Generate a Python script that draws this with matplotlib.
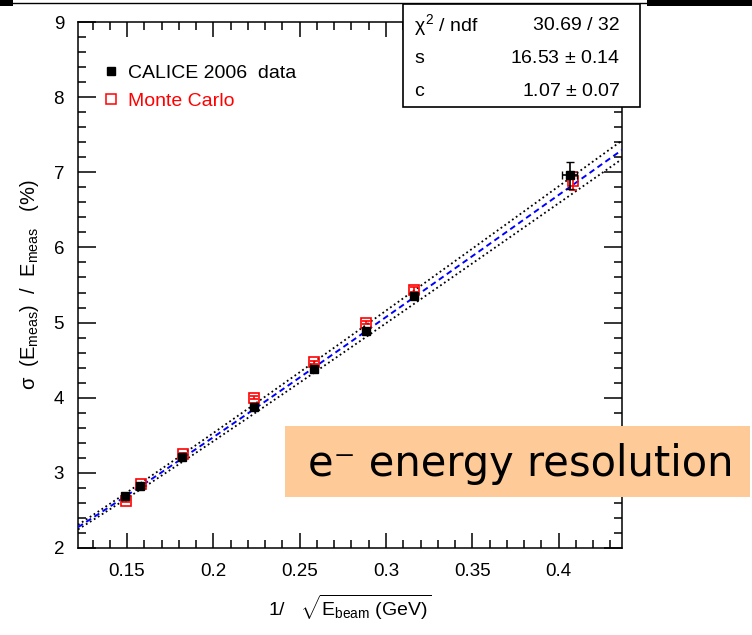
import numpy as np
import matplotlib.pyplot as plt
from matplotlib.lines import Line2D
from matplotlib.patches import Rectangle

plt.rcParams['font.family'] = ['Liberation Sans', 'DejaVu Sans']
plt.rcParams['mathtext.fontset'] = 'custom'
plt.rcParams['mathtext.rm'] = 'Liberation Sans'
plt.rcParams['mathtext.it'] = 'Liberation Sans'
plt.rcParams['mathtext.bf'] = 'Liberation Sans:bold'

# data
data_x = [0.149, 0.1577, 0.182, 0.2234, 0.2583, 0.2886, 0.3165, 0.4063]
data_y = [2.69, 2.83, 3.21, 3.88, 4.38, 4.89, 5.35, 6.96]
data_xerr = [0.001, 0.001, 0.001, 0.001, 0.001, 0.001, 0.001, 0.0043]
data_yerr = [0.02, 0.02, 0.02, 0.02, 0.02, 0.02, 0.03, 0.18]

mc_x = [0.1495, 0.158, 0.1825, 0.2236, 0.2582, 0.2887, 0.3162, 0.4086]
mc_y = [2.63, 2.85, 3.25, 4.00, 4.47, 5.00, 5.44, 6.88]
mc_yerr = [0.02, 0.02, 0.02, 0.02, 0.02, 0.02, 0.03, 0.12]

# fit parameters (stat box) and band edges
s_fit, s_err = 16.53, 0.14
c_fit, c_err = 1.07, 0.07
chi2_ndf = "30.69 / 32"
s_band = [16.25, 16.82]

xmin, xmax = 0.1216, 0.4367
ymin, ymax = 2.0, 9.0

fig = plt.figure(figsize=(7.52, 6.35), dpi=100)
ax = fig.add_axes([78 / 752, 1 - 548 / 635, 544 / 752, 526 / 635])


def reso(x, s, c):
    return np.sqrt((s * x) ** 2 + c ** 2)


xx = np.linspace(xmin, xmax, 300)
for sb in s_band:
    ax.plot(xx, reso(xx, sb, c_fit), color='black', lw=1.3, ls=(0, (1, 1.6)), zorder=2)
ax.plot(xx, reso(xx, s_fit, c_fit), color='#0000ff', lw=1.4, ls=(0, (3, 2)), zorder=3)

ax.errorbar(mc_x, mc_y, yerr=mc_yerr, fmt='s', ms=7, mfc='none', mec='red',
            mew=1.2, ecolor='red', elinewidth=1.2, capsize=3, zorder=4)
ax.errorbar(data_x, data_y, xerr=data_xerr, yerr=data_yerr, fmt='s', ms=6,
            color='black', ecolor='black', elinewidth=1.2, capsize=3, zorder=5)

ax.set_xlim(xmin, xmax)
ax.set_ylim(ymin, ymax)
ax.set_xticks([0.15, 0.2, 0.25, 0.3, 0.35, 0.4])
ax.set_xticklabels(['0.15', '0.2', '0.25', '0.3', '0.35', '0.4'])
ax.set_xticks(np.arange(0.13, 0.44, 0.01), minor=True)
ax.set_yticks(range(2, 10))
ax.set_yticks(np.arange(2.0, 9.01, 0.2), minor=True)
ax.tick_params(which='both', direction='in', top=True, right=True, labelsize=13.5, width=1.1)
ax.tick_params(axis='x', which='major', length=11, pad=11)
ax.tick_params(axis='x', which='minor', length=5.5)
ax.tick_params(axis='y', which='major', length=13, pad=10)
ax.tick_params(axis='y', which='minor', length=6)
for sp in ax.spines.values():
    sp.set_linewidth(1.1)

ax.set_xlabel(r'$1/\ \ \ \sqrt{\mathrm{E_{beam}\ (GeV)}}$', fontsize=14)
ax.xaxis.set_label_coords(0.5, -0.085)
ax.set_ylabel(r'$\sigma\ \ (\mathrm{E_{meas}})\ \ /\ \ \mathrm{E_{meas}}\ \ \ (\%)$',
              fontsize=14.5)
ax.yaxis.set_label_coords(-0.068, 0.5)

handles = [Line2D([], [], ls='none', marker='s', ms=6, color='black'),
           Line2D([], [], ls='none', marker='s', ms=6.5, mfc='none', mec='red', mew=1.1)]
ax.legend(handles, ['CALICE 2006  data', 'Monte Carlo'], loc='upper left',
          bbox_to_anchor=(0.032, 0.935), frameon=False, fontsize=14,
          labelcolor=['black', 'red'], handlelength=0.8, handletextpad=0.5,
          labelspacing=0.56, borderaxespad=0)

# stat box
fig.patches.append(Rectangle((403 / 752, 1 - 107 / 635), 237 / 752, 103 / 635,
                             transform=fig.transFigure, fc='white', ec='black', lw=1.2,
                             zorder=10))
rows = [(r'$\chi^{2}$ / ndf', chi2_ndf),
        ('s', f'{s_fit:.2f} $\\pm$ {s_err:.2f}'),
        ('c', f'{c_fit:.2f} $\\pm$ {c_err:.2f}')]
for i, (lab, val) in enumerate(rows):
    yy = 1 - (25 + 33.5 * i) / 635
    fig.text(414 / 752, yy, lab, fontsize=14, ha='left', va='center', zorder=11)
    fig.text(620 / 752, yy, val, fontsize=14, ha='right', va='center', zorder=11)

# slide frame lines at the top
fig.add_artist(Line2D([0, 647 / 752], [1 - 2.5 / 635] * 2, transform=fig.transFigure,
                      color='black', lw=1.0))
fig.patches.append(Rectangle((0, 1 - 5.5 / 635), 13 / 752, 5.5 / 635,
                             transform=fig.transFigure, fc='black', ec='none'))
fig.patches.append(Rectangle((647 / 752, 1 - 6 / 635), 105 / 752, 6 / 635,
                             transform=fig.transFigure, fc='black', ec='none'))

# highlighted caption
fig.patches.append(Rectangle((285 / 752, 1 - 497 / 635), 465 / 752, 71 / 635,
                             transform=fig.transFigure, fc='#fecb98', ec='none',
                             zorder=10))
fig.text(521 / 752, 1 - 464 / 635, 'e\u207b energy resolution', fontsize=30,
         family='DejaVu Sans', ha='center', va='center', zorder=11)

fig.savefig('out.png', dpi=100)
